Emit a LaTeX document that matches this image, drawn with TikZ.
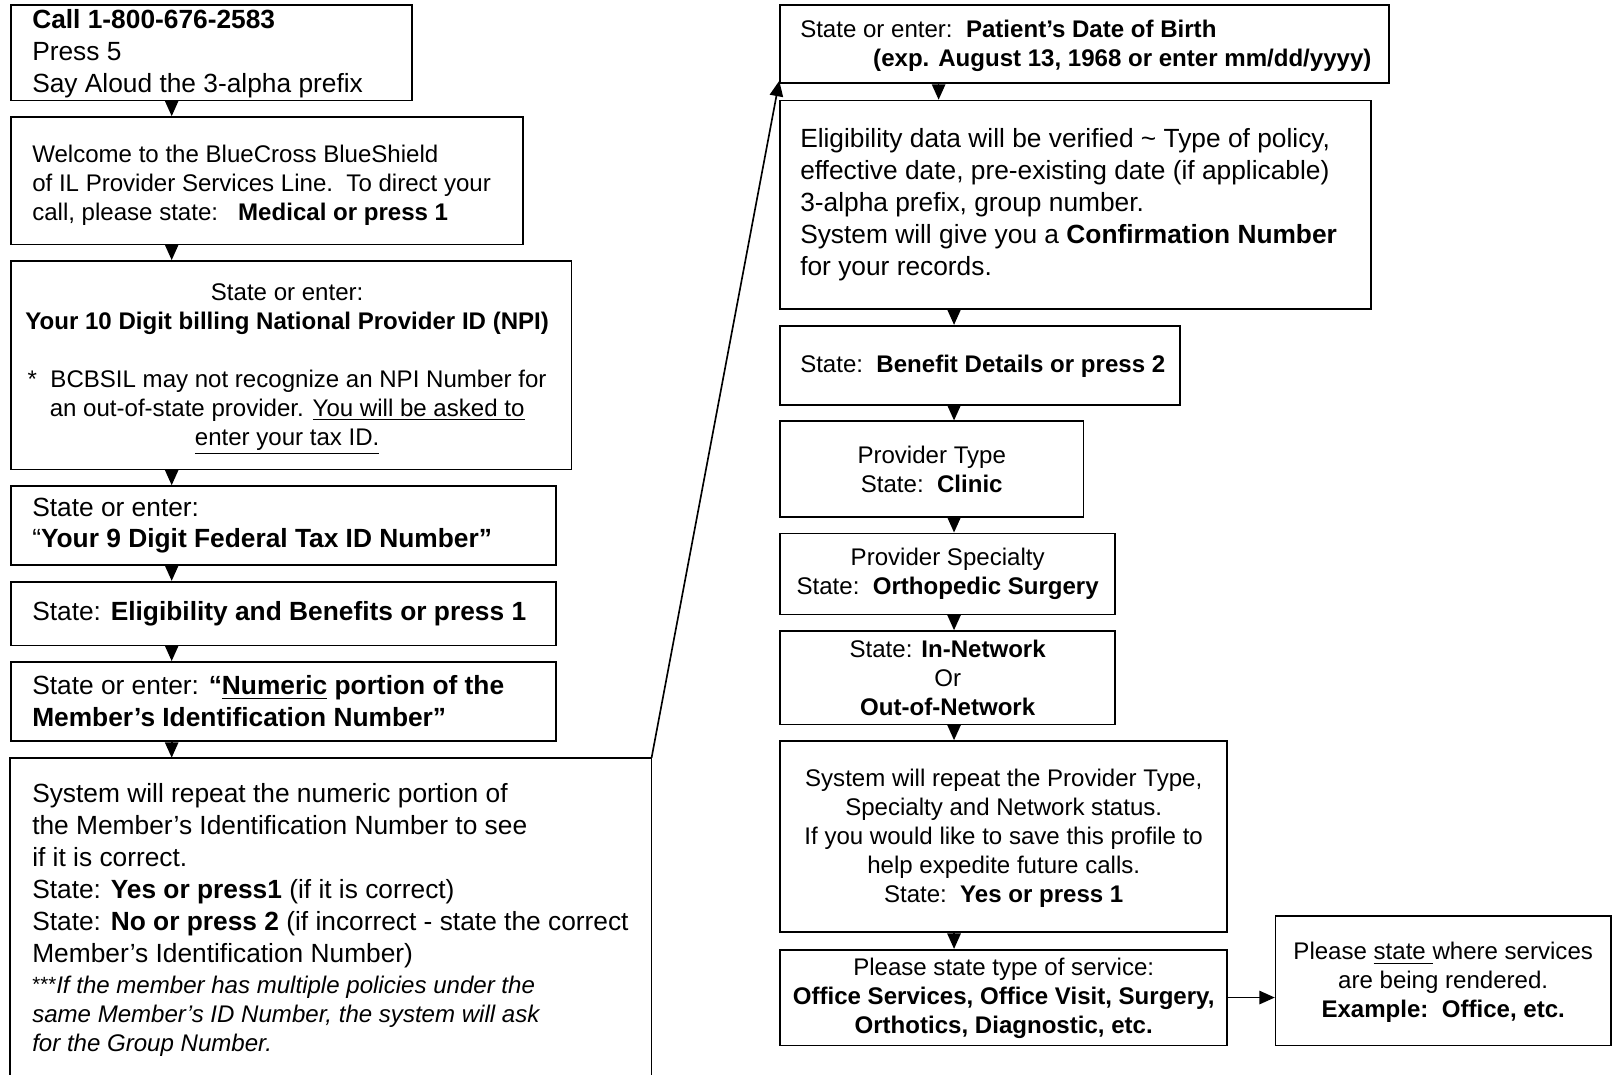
\documentclass[tikz,border=0pt]{standalone}
\usepackage{fontspec}
\setmainfont{Liberation Sans}
\usetikzlibrary{arrows.meta}
\newcommand\fbig{\fontsize{12.8}{15.5}\selectfont}
\newcommand\fsml{\fontsize{11.7}{14.1}\selectfont}
\begin{document}
\begin{tikzpicture}[x=0.5pt,y=-0.5pt,
  box/.style={draw, line width=0.8pt, anchor=north west, inner sep=0pt},
  openbox/.style={draw=none, anchor=north west, inner sep=0pt},
  ltxt/.style={inner sep=0pt, align=left, anchor=west},
  ctxt/.style={inner sep=0pt, align=center},
  arr/.style={-{Triangle[length=7.5pt,width=6.5pt]}, line width=0.8pt}]
\fill[white] (0,0) rectangle (1568,1045);
\useasboundingbox (0,0) rectangle (1568,1045);

% ---------- boxes, left column ----------
\node[box, minimum width=195pt, minimum height=46.5pt] (B1) at (10,4) {};
\node[box, minimum width=249pt, minimum height=62pt] (B2) at (10,113) {};
\node[box, minimum width=272.5pt, minimum height=101.5pt] (B3) at (10,253) {};
\node[box, minimum width=265pt, minimum height=38.5pt] (B4) at (10,472) {};
\node[box, minimum width=265pt, minimum height=31pt] (B5) at (10,565) {};
\node[box, minimum width=265pt, minimum height=38.5pt] (B6) at (10,643) {};
\node[openbox, minimum width=311.5pt, minimum height=156.5pt] (B7) at (10,737) {};
\draw[line width=0.8pt] (B7.south west) -- (B7.north west) -- (B7.north east) -- (B7.south east);

% ---------- boxes, right column ----------
\node[box, minimum width=296pt, minimum height=38pt] (B8) at (758,4) {};
\node[box, minimum width=287.5pt, minimum height=101.5pt] (B9) at (758,97) {};
\node[box, minimum width=194.5pt, minimum height=38.5pt] (B10) at (758,316) {};
\node[box, minimum width=147.5pt, minimum height=46.5pt] (B11) at (758,409) {};
\node[box, minimum width=163pt, minimum height=39.5pt] (B12) at (758,518) {};
\node[box, minimum width=163pt, minimum height=45.5pt] (B13) at (758,613) {};
\node[box, minimum width=217.5pt, minimum height=93pt] (B14) at (758,720) {};
\node[box, minimum width=217.5pt, minimum height=46.5pt] (B15) at (758,923) {};
\node[box, minimum width=163pt, minimum height=63pt] (B16) at (1240,890) {};

% ---------- texts ----------
\node[ltxt, font=\fbig] (T1) at ([xshift=10.5pt,yshift=-0.5pt]B1.west)
  {\textbf{Call 1-800-676-2583}\\Press 5\\Say Aloud the 3-alpha prefix};
\node[ltxt, font=\fsml] (T2) at ([xshift=10.5pt,yshift=-2pt]B2.west)
  {Welcome to the BlueCross BlueShield\\of IL Provider Services Line.\ \ To direct your\\call, please state:\ \ \ \textbf{Medical or press 1}};
\node[ctxt, font=\fsml] (T3) at ([xshift=-2pt,yshift=-2pt]B3.center)
  {State or enter:\\\textbf{Your 10 Digit billing National Provider ID (NPI)}\\[13.9pt]
   *\ \ BCBSIL may not recognize an NPI Number for\\an out-of-state provider. \underline{You will be asked to}\\\underline{enter your tax ID.}};
\node[ltxt, font=\fbig] (T4) at ([xshift=10.5pt]B4.west)
  {State or enter:\\“\textbf{Your 9 Digit Federal Tax ID Number”}};
\node[ltxt, font=\fbig] (T5) at ([xshift=10.5pt]B5.west)
  {State: \textbf{Eligibility and Benefits or press 1}};
\node[ltxt, font=\fbig] (T6) at ([xshift=10.5pt]B6.west)
  {State or enter: \textbf{“\underline{Numeric} portion of the}\\\textbf{Member’s Identification Number”}};
\node[ltxt, font=\fbig] (T7) at ([xshift=10.5pt,yshift=-0.5pt]B7.west)
  {System will repeat the numeric portion of\\the Member’s Identification Number to see\\if it is correct.\\
   State: \textbf{Yes or press1} (if it is correct)\\State: \textbf{No or press 2} (if incorrect - state the correct\\Member’s Identification Number)\\
   \fsml\raisebox{1pt}{\fontsize{10}{11}\selectfont***}\textit{If the member has multiple policies under the}\\[-1.5pt]
   \fsml\textit{same Member’s ID Number, the system will ask}\\[-1.5pt]
   \fsml\textit{for the Group Number.}};

\node[ltxt, font=\fsml] (T8) at ([xshift=10pt,yshift=-1pt]B8.west)
  {State or enter:\ \ \textbf{Patient’s Date of Birth}\\\hspace*{35.5pt}\textbf{(exp. August 13, 1968 or enter mm/dd/yyyy)}};
\node[ltxt, font=\fbig] (T9) at ([xshift=10pt]B9.west)
  {Eligibility data will be verified \textasciitilde{} Type of policy,\\effective date, pre-existing date (if applicable)\\3-alpha prefix, group number.\\
   System will give you a \textbf{Confirmation Number}\\for your records.};
\node[ltxt, font=\fsml] (T10) at ([xshift=10pt,yshift=-0.5pt]B10.west)
  {State:\ \ \textbf{Benefit Details or press 2}};
\node[ctxt, font=\fsml] (T11) at (B11.center)
  {Provider Type\\State:\ \ \textbf{Clinic}};
\node[ctxt, font=\fsml] (T12) at (B12.center)
  {Provider Specialty\\State:\ \ \textbf{Orthopedic Surgery}};
\node[ctxt, font=\fsml] (T13) at (B13.center)
  {State: \textbf{In-Network}\\Or\\\textbf{Out-of-Network}};
\node[ctxt, font=\fsml] (T14) at ([yshift=-1pt]B14.center)
  {System will repeat the Provider Type,\\Specialty and Network status.\\If you would like to save this profile to\\help expedite future calls.\\State:\ \ \textbf{Yes or press 1}};
\node[ctxt, font=\fsml] (T15) at ([yshift=-0.5pt]B15.center)
  {Please state type of service:\\\textbf{Office Services, Office Visit, Surgery,}\\\textbf{Orthotics, Diagnostic, etc.}};
\node[ctxt, font=\fsml] (T16) at ([yshift=-1pt]B16.center)
  {Please \underline{state }where services\\are being rendered.\\\textbf{Example:\ \ Office, etc.}};

% ---------- connectors ----------
\coordinate (cl) at (167,0);
\coordinate (cr) at (928,0);
\coordinate (cr8) at (913,0);
\draw[arr] (B1.south -| cl) -- (B2.north -| cl);
\draw[arr] (B2.south -| cl) -- (B3.north -| cl);
\draw[arr] (B3.south -| cl) -- (B4.north -| cl);
\draw[arr] (B4.south -| cl) -- (B5.north -| cl);
\draw[arr] (B5.south -| cl) -- (B6.north -| cl);
\draw[arr] (B6.south -| cl) -- (B7.north -| cl);
\draw[arr] (B7.north east) -- ([yshift=1.5pt]B8.south west);
\draw[arr] (B8.south -| cr8) -- (B9.north -| cr8);
\draw[arr] (B9.south -| cr) -- (B10.north -| cr);
\draw[arr] (B10.south -| cr) -- (B11.north -| cr);
\draw[arr] (B11.south -| cr) -- (B12.north -| cr);
\draw[arr] (B12.south -| cr) -- (B13.north -| cr);
\draw[arr] (B13.south -| cr) -- (B14.north -| cr);
\draw[arr] (B14.south -| cr) -- (B15.north -| cr);
\draw[arr] (B15.east) -- (B15.east -| B16.west);
\end{tikzpicture}
\end{document}
